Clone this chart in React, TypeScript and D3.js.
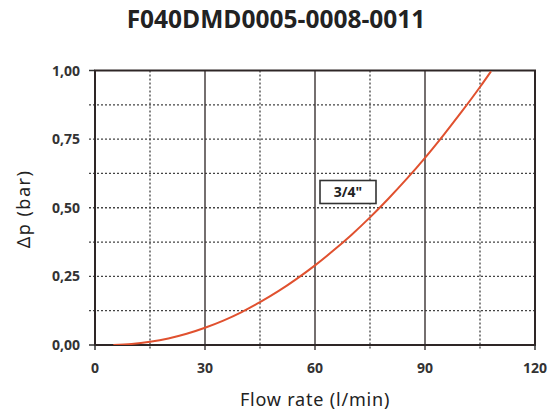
import React from "react";
import * as d3 from "d3";

const title = "F040DMD0005-0008-0011";
const xTicks = [0, 30, 60, 90, 120];
const xMinor = [15, 45, 75, 105];
const yTicks = [0, 0.25, 0.5, 0.75, 1.0];
const yMinor = [0.125, 0.375, 0.625, 0.875];
const yTickLabels = ["0,00", "0,25", "0,50", "0,75", "1,00"];
const flow = [5, 10, 15, 20, 25, 30, 35, 40, 45, 50, 55, 60, 65, 70, 75, 80, 85, 90, 95, 100, 105, 108];
const dp = [0, 0.004, 0.012, 0.024, 0.041, 0.063, 0.089, 0.12, 0.156, 0.196, 0.241, 0.29, 0.344, 0.402, 0.465, 0.533, 0.605, 0.682, 0.764, 0.85, 0.94, 0.997];
const seriesLabel = '3/4"';

export default function App() {
  const W = 550, H = 415;
  const L = 95, R = 535, T = 70.5, B = 345;
  const x = d3.scaleLinear().domain([0, 120]).range([L, R]);
  const y = d3.scaleLinear().domain([0, 1]).range([B, T]);
  const line = d3.line<number>().x((_, i) => x(flow[i])).y((d) => y(d)).curve(d3.curveMonotoneX);
  const path = line(dp) || "";
  const labelFont = "'Open Sans', 'DejaVu Sans', sans-serif";
  const axisFont = "'Century Gothic', 'URW Gothic', 'Noto Sans', 'DejaVu Sans', sans-serif";
  const grid = "#444";
  return (
    <svg width={W} height={H} style={{ position: "absolute", left: 0, top: 0 }}>
      <rect width={W} height={H} fill="#fff" />
      <text x={276} y={28} textAnchor="middle" fontFamily={labelFont} fontWeight={700} fontSize={24.5} fill="#222">
        {title}
      </text>
      <defs>
        <clipPath id="plot">
          <rect x={L} y={T} width={R - L} height={B - T} />
        </clipPath>
      </defs>
      {[...yMinor, ...yTicks.slice(1, 4)].map((v) => (
        <line key={"h" + v} x1={L - 6} x2={R} y1={y(v)} y2={y(v)} stroke={grid} strokeWidth={1.3} strokeDasharray="2,2" />
      ))}
      {[0, 1].map((v) => (
        <line key={"ht" + v} x1={L - 6} x2={L} y1={y(v)} y2={y(v)} stroke="#333" strokeWidth={1.5} />
      ))}
      {xMinor.map((v) => (
        <line key={"vm" + v} x1={x(v)} x2={x(v)} y1={T} y2={B + 5} stroke={grid} strokeWidth={1.3} strokeDasharray="2,2" />
      ))}
      {xTicks.slice(1, 4).map((v) => (
        <line key={"vM" + v} x1={x(v)} x2={x(v)} y1={T} y2={B + 5} stroke="#3a3232" strokeWidth={1.4} />
      ))}
      <rect x={L} y={T} width={R - L} height={B - T} fill="none" stroke="#2e2626" strokeWidth={2} />
      {[0, 120].map((v) => (
        <line key={"xt" + v} x1={x(v)} x2={x(v)} y1={B} y2={B + 5} stroke="#333" strokeWidth={1.5} />
      ))}
      <path d={path} fill="none" stroke="#e0512f" strokeWidth={2} clipPath="url(#plot)" />
      <rect x={320} y={180.5} width={56} height={23} fill="#fff" stroke="#333" strokeWidth={1.6} />
      <text x={348} y={197} textAnchor="middle" fontFamily={labelFont} fontWeight={700} fontSize={14} fill="#222">
        {seriesLabel}
      </text>
      {yTicks.map((v, i) => (
        <text key={"yl" + v} x={80} y={y(v) + 5} textAnchor="end" fontFamily={labelFont} fontWeight={700} fontSize={14} fill="#333">
          {yTickLabels[i]}
        </text>
      ))}
      {xTicks.map((v) => (
        <text key={"xl" + v} x={x(v)} y={373} textAnchor="middle" fontFamily={labelFont} fontWeight={700} fontSize={14} fill="#333">
          {v}
        </text>
      ))}
      <text x={315} y={406} textAnchor="middle" fontFamily={axisFont} fontSize={18} letterSpacing={0.8} fill="#222">
        Flow rate (l/min)
      </text>
      <text transform={`translate(30,209) rotate(-90)`} textAnchor="middle" fontFamily={axisFont} fontSize={18} letterSpacing={1.5} fill="#222">
        Δp (bar)
      </text>
    </svg>
  );
}
